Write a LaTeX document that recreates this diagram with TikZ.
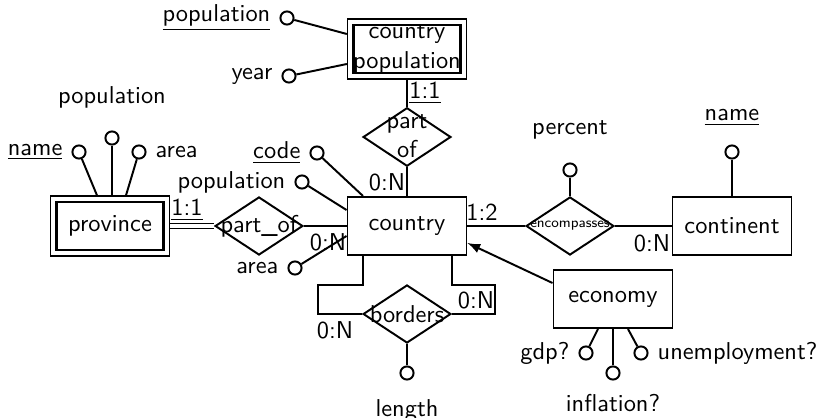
\documentclass[tikz,border=0pt]{standalone}
\usepackage{amsmath}
\usepackage{tikz}
\usetikzlibrary{arrows,shapes.geometric}
\renewcommand{\familydefault}{\sfdefault}

\tikzset{
  entity/.style={draw, rectangle, minimum width=48.8pt, minimum height=23.8pt, inner sep=0pt},
  weakentity/.style={draw, line width=0.5pt, rectangle, minimum width=48.8pt, minimum height=24.6pt, inner sep=0pt, align=center},
  relation/.style={draw, diamond, minimum width=36pt, minimum height=23.8pt, inner sep=0pt},
  attr/.style={draw, circle, minimum size=5.4pt, inner sep=0pt},
  card/.style={inner sep=0pt},
}

\begin{document}
\begin{tikzpicture}[x=0.41pt,y=-0.41pt,thick]
  \useasboundingbox (0,0) rectangle (820,418);

  % entities
  \node[weakentity] (cpop) at (407,49) {country\\population};
  \node[weakentity] (prov) at (110,226) {province};
  \node[entity] (country) at (407,226) {country};
  \node[entity] (cont) at (732,226) {continent};
  \node[entity] (econ) at (613,299) {economy};
  \foreach \n in {cpop,prov}
    \draw[line width=1.2pt] ([shift={(2.7pt,-2.7pt)}]\n.north west) rectangle ([shift={(-2.7pt,2.7pt)}]\n.south east);

  % relationships
  \node[relation] (relcp) at (407,137) {\makebox[0pt]{\begin{tabular}{@{}c@{}}part\\of\end{tabular}}};
  \node[relation] (relpo) at (259,226) {\makebox[0pt]{part\_of}};
  \node[relation] (relen) at (570,226) {\makebox[0pt]{\fontsize{5.8}{7}\selectfont encompasses}};
  \node[relation] (relb) at (407,314) {\makebox[0pt]{borders}};

  % attributes
  \node[attr, label=left:\underline{population}] (cpoppop) at (287,18) {};
  \node[attr, label=left:year] (cpopyear) at (289,76) {};
  \node[attr, label=left:\underline{name}] (provname) at (79,152) {};
  \node[attr, label={[label distance=5.5pt]above:population}] (provpop) at (112,138) {};
  \node[attr, label=right:area] (provarea) at (139,152) {};
  \node[attr, label=left:\underline{code}] (ccode) at (317,153) {};
  \node[attr, label=left:population] (cpopul) at (302,182) {};
  \node[attr, label=left:area] (carea) at (295,268) {};
  \node[attr, label={[label distance=5.7pt]above:percent}] (enperc) at (570,170) {};
  \node[attr, label={[label distance=4pt]above:\underline{name}}] (contname) at (732,152) {};
  \node[attr, label={[label distance=4pt]below:length}] (blen) at (407,373) {};
  \node[attr, label=left:gdp?] (egdp) at (586,353) {};
  \node[attr, label={[label distance=2pt]below:inflation?}] (einfl) at (613,373) {};
  \node[attr, label=right:unemployment?] (eunemp) at (641,353) {};

  % cardinalities
  \node[card] (k1) at (425,93) {\underline{1:1}};
  \node[card] (k2) at (387,182) {0:N};
  \node[card] (k3) at (187,210) {\underline{1:1}};
  \node[card] (k4) at (328,242) {0:N};
  \node[card] (k5) at (482,212) {1:2};
  \node[card] (k6) at (652,243) {0:N};
  \node[card] (k7) at (335,330) {0:N};
  \node[card] (k8) at (476,300) {0:N};

  % connectors
  \draw (cpoppop) -- (cpop.west |- 0,34);
  \draw (cpopyear) -- (cpop.west |- 0,64);
  \draw (cpop) -- (relcp);
  \draw (relcp) -- (country);
  \draw (ccode) -- (country.north -| 363,0);
  \draw (cpopul) -- (country.west |- 0,210);
  \draw (relpo) -- (country);
  \draw (carea) -- (country.west |- 0,236);
  \draw[double, double distance=1.4pt, line width=0.5pt] (prov) -- (relpo);
  \draw (provname) -- (prov.north -| 97,0);
  \draw (provpop) -- (prov.north -| 112,0);
  \draw (provarea) -- (prov.north -| 126,0);
  \draw (country) -- (relen);
  \draw (enperc) -- (relen);
  \draw (relen) -- (cont);
  \draw (contname) -- (cont);
  \draw[-latex] (econ.west |- 0,283) -- (country.east |- 0,243);
  \draw (egdp) -- (econ.south -| 598,0);
  \draw (einfl) -- (econ);
  \draw (eunemp) -- (econ.south -| 628,0);
  % borders loop
  \draw (country.south -| 363,0) -- (363,285) -- (318,285) |- (relb.west);
  \draw (country.south -| 452,0) -- (452,285) -- (495,285) |- (relb.east);
  \draw (relb) -- (blen);
\end{tikzpicture}
\end{document}
